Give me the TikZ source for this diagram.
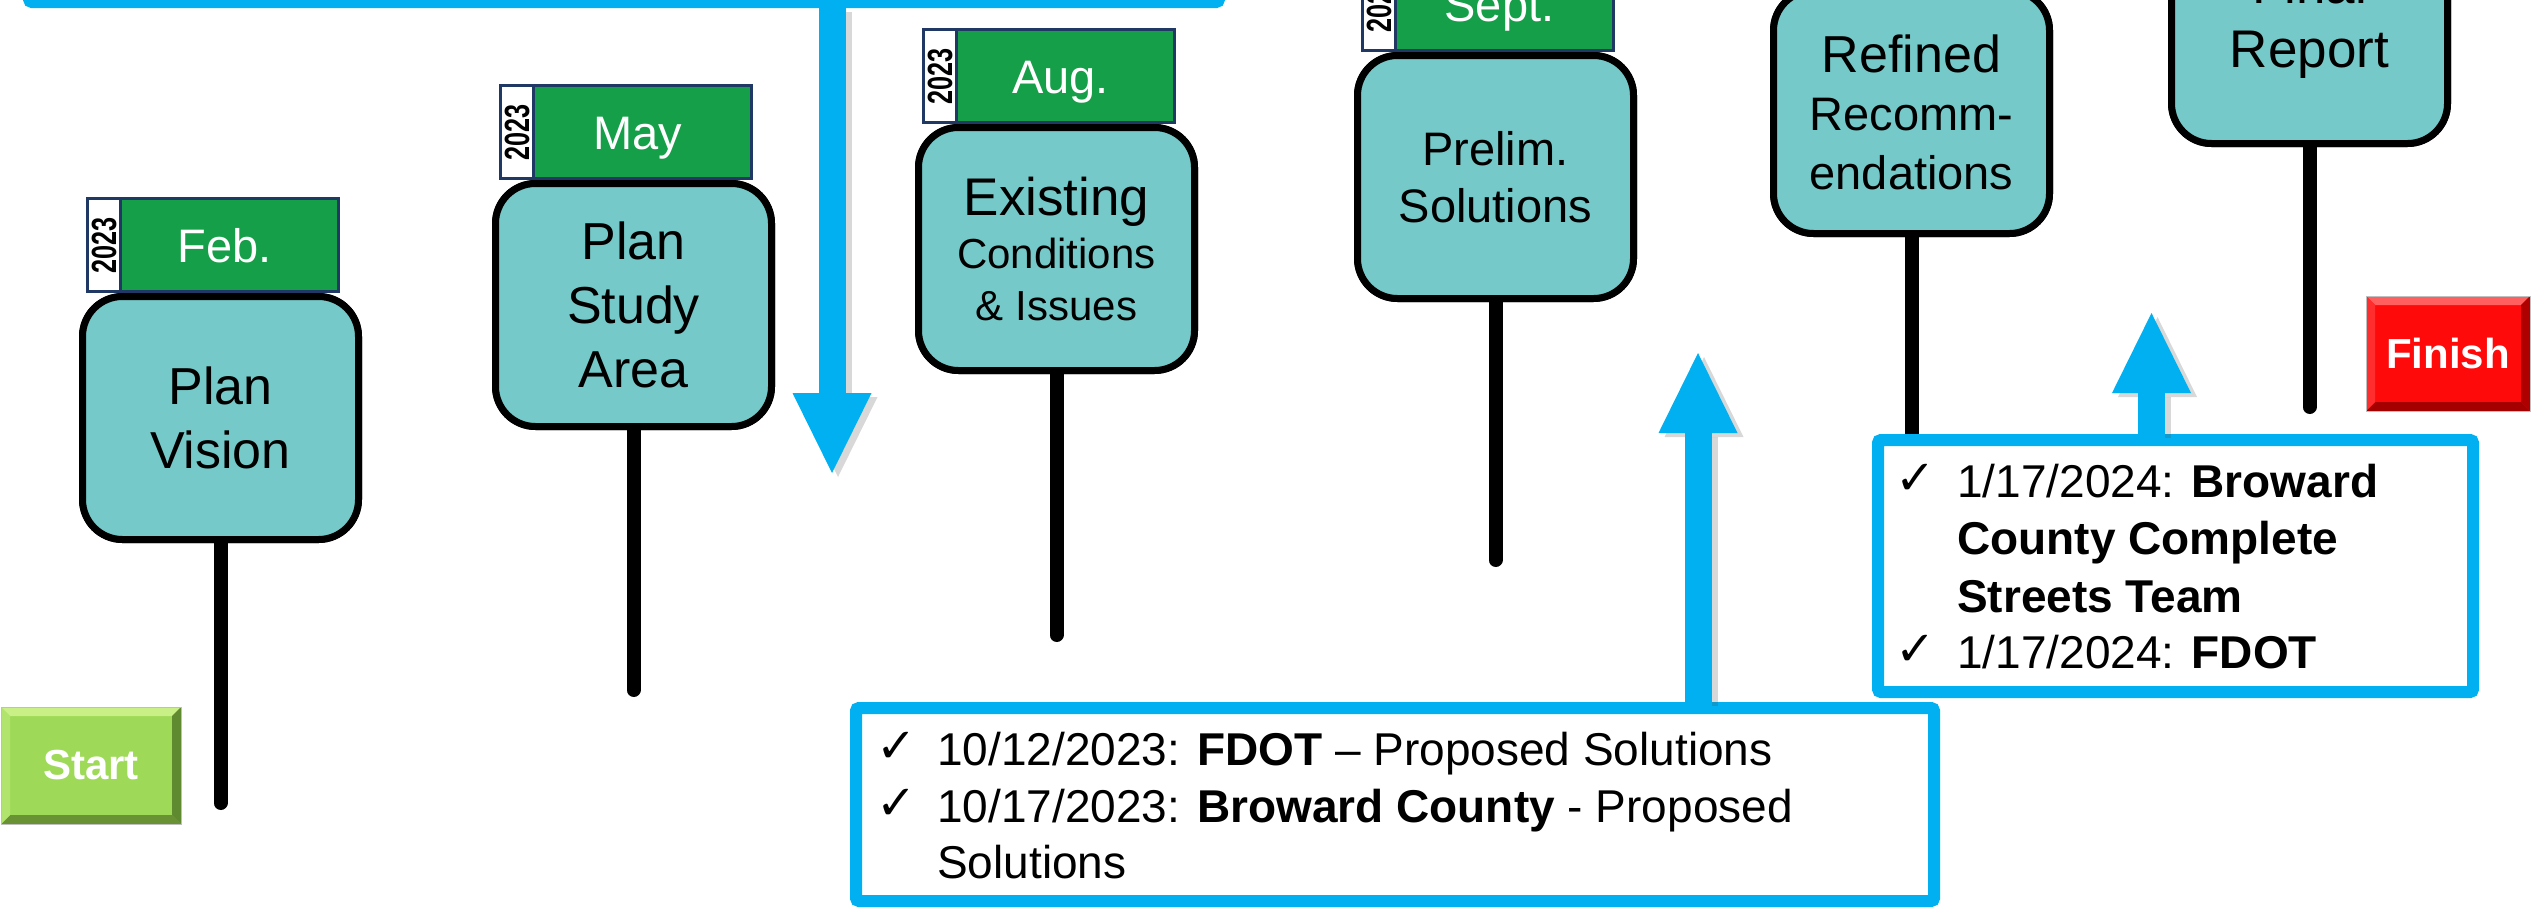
\documentclass[tikz,border=0pt]{standalone}
\usepackage{fontspec}
\setmainfont{Liberation Sans}
\newfontfamily\symbolfont{DejaVu Sans}
\usetikzlibrary{arrows.meta,calc}

\definecolor{stagefill}{RGB}{117,201,201}
\definecolor{taggreen}{RGB}{21,159,72}
\definecolor{tagedge}{RGB}{31,56,100}
\definecolor{calloutblue}{RGB}{0,176,240}
\definecolor{startface}{RGB}{158,218,88}
\definecolor{starttop}{RGB}{200,240,135}
\definecolor{startleft}{RGB}{176,228,108}
\definecolor{startright}{RGB}{96,138,48}
\definecolor{startbottom}{RGB}{104,146,52}
\definecolor{finishface}{RGB}{255,10,10}
\definecolor{finishtop}{RGB}{255,95,95}
\definecolor{finishleft}{RGB}{255,45,45}
\definecolor{finishright}{RGB}{175,0,0}
\definecolor{finishbottom}{RGB}{165,0,0}

\tikzset{
  stage/.style={draw=black, line width=7pt, fill=stagefill, rounded corners=40pt,
    minimum width=276pt, minimum height=243pt, inner sep=0pt, align=center, anchor=north west},
  stem/.style={draw=black, line width=14pt, line cap=round},
  yeartab/.style={draw=tagedge, line width=3pt, fill=white, minimum width=33pt,
    minimum height=93pt, inner sep=0pt, anchor=south west},
  monthtab/.style={draw=tagedge, line width=3pt, fill=taggreen, minimum width=218pt,
    minimum height=93pt, inner sep=0pt, anchor=south west, text=white,
    font=\fontsize{47}{47}\selectfont, text height=34pt, text depth=0pt},
  yearlabel/.style={rotate=90, inner sep=0pt, font=\bfseries\fontsize{35}{35}\selectfont},
  note/.style={draw=calloutblue, line width=12pt, fill=white, rounded corners=3pt,
    inner sep=0pt, anchor=north west},
  noteline/.style={inner sep=0pt, anchor=base west, font=\fontsize{46}{56}\selectfont},
  tick/.style={inner sep=0pt, anchor=base west, font=\symbolfont\fontsize{48}{48}\selectfont},
  bigarrow/.style={draw=calloutblue, line width=27pt,
    -{Triangle[width=79pt,length=80pt,line width=0pt]}},
  arrowshadow/.style={bigarrow, draw=black!70, opacity=0.22,
    transform canvas={shift={(6pt,-4pt)}}},
  button/.style n args={5}{fill=#1, draw=black!25, line width=1pt, inner sep=0pt,
    anchor=north west, text=white, font=\bfseries\fontsize{42}{42}\selectfont,
    path picture={
      \path (path picture bounding box.north west) coordinate (bnw)
            (path picture bounding box.south east) coordinate (bse);
      \fill[#2] (bnw) -- (bnw -| bse) -- ($(bnw -| bse)+(-9,9)$) -- ($(bnw)+(9,9)$) -- cycle;
      \fill[#5] (bse) -- (bse -| bnw) -- ($(bse -| bnw)+(9,-9)$) -- ($(bse)+(-9,-9)$) -- cycle;
      \fill[#3] (bnw) -- ($(bnw)+(9,9)$) -- ($(bse -| bnw)+(9,-9)$) -- (bse -| bnw) -- cycle;
      \fill[#4] (bnw -| bse) -- ($(bnw -| bse)+(-9,9)$) -- ($(bse)+(-9,-9)$) -- (bse) -- cycle;
    }},
}

\begin{document}
\begin{tikzpicture}[x=1pt,y=-1pt]
\useasboundingbox (0,0) rectangle (2535,908);
\clip (0,0) rectangle (2535,908);

% end points of the posts and tips of the big arrows
\coordinate (visionend) at (220.5,803);
\coordinate (studyend) at (633.5,690);
\coordinate (existend) at (1056.5,635);
\coordinate (prelimend) at (1495.5,560);
\coordinate (finalend) at (2309.5,407);
\coordinate (downtip) at (832,473);
\coordinate (uptipa) at (1698,353);
\coordinate (uptipb) at (2151.5,313);

% milestone signs
\node[stage, font=\fontsize{52}{64}\selectfont] (vision) at (79,293) {Plan\\Vision};
\node[stage, font=\fontsize{52}{64}\selectfont] (study) at (492,180) {Plan\\Study\\Area};
\node[stage, font=\fontsize{42}{52.5}\selectfont] (exist) at (915,124)
  {{\fontsize{53}{53}\selectfont Existing}\\Conditions\\\& Issues};
\node[stage, font=\fontsize{47}{57}\selectfont] (prelim) at (1354,52) {Prelim.\\Solutions};
\node[stage, font=\fontsize{47}{58.5}\selectfont] (refined) at (1770,-13)
  {{\fontsize{52}{52}\selectfont Refined}\\Recomm-\\endations};
\node[stage, font=\fontsize{53}{64}\selectfont] (final) at (2168,-103) {Final\\Report};

% callout boxes
\node[note, minimum width=1190pt, minimum height=302pt, anchor=south west] (topnote) at (23,8) {};
\node[note, minimum width=1078pt, minimum height=193pt] (octnote) at (850,702) {};

% posts
\draw[stem] (vision.south) -- (visionend);
\draw[stem] (study.south) -- (studyend);
\draw[stem] (exist.south) -- (existend);
\draw[stem] (prelim.south) -- (prelimend);
\draw[stem] (final.south) -- (finalend);
\draw[stem, line cap=butt] (refined.south) -- ($(refined.south |- 0,440)$);

\node[note, minimum width=595pt, minimum height=252pt] (jannote) at (1872,434) {};

% redraw signs above their posts
\node[stage, font=\fontsize{52}{64}\selectfont] at (79,293) {Plan\\Vision};
\node[stage, font=\fontsize{52}{64}\selectfont] at (492,180) {Plan\\Study\\Area};
\node[stage, font=\fontsize{42}{52.5}\selectfont] at (915,124)
  {{\fontsize{53}{53}\selectfont Existing}\\Conditions\\\& Issues};
\node[stage, font=\fontsize{47}{57}\selectfont] at (1354,52) {Prelim.\\Solutions};
\node[stage, font=\fontsize{47}{58.5}\selectfont] at (1770,-13)
  {{\fontsize{52}{52}\selectfont Refined}\\Recomm-\\endations};
\node[stage, font=\fontsize{53}{64}\selectfont] at (2168,-103) {Final\\Report};

% date tabs
\node[yeartab] (yfeb) at (86,293) {};
\node[monthtab] (mfeb) at ($(yfeb.south east)+(-3,0)$) {\kern-10pt Feb.};
\node[yearlabel] (lfeb) at (yfeb.center) {\scalebox{0.72}[1]{2023}};

\node[yeartab] (ymay) at (499,180) {};
\node[monthtab] (mmay) at ($(ymay.south east)+(-3,0)$) {\kern-10pt May};
\node[yearlabel] (lmay) at (ymay.center) {\scalebox{0.72}[1]{2023}};

\node[yeartab] (yaug) at (922,124) {};
\node[monthtab] (maug) at ($(yaug.south east)+(-3,0)$) {\kern-10pt Aug.};
\node[yearlabel] (laug) at (yaug.center) {\scalebox{0.72}[1]{2023}};

\node[yeartab] (ysep) at (1361,52) {};
\node[monthtab] (msep) at ($(ysep.south east)+(-3,0)$) {\kern-10pt Sept.};
\node[yearlabel] (lsep) at (ysep.center) {\scalebox{0.72}[1]{2023}};

% big blue arrows with their shadows
\draw[arrowshadow] (topnote.south -| downtip) -- (downtip);
\draw[arrowshadow] (octnote.north -| uptipa) -- (uptipa);
\draw[arrowshadow] (jannote.north -| uptipb) -- (uptipb);
\draw[bigarrow] ($(topnote.south -| downtip)+(0,-6)$) -- (downtip);
\draw[bigarrow] ($(octnote.north -| uptipa)+(0,6)$) -- (uptipa);
\draw[bigarrow] ($(jannote.north -| uptipb)+(0,6)$) -- (uptipb);

% review meetings
\node[tick] (ta) at (876,762) {✓};
\node[noteline] (oa) at (937,765) {10/12/2023: \textbf{FDOT} – Proposed Solutions};
\node[tick] (tb) at (876,819) {✓};
\node[noteline] (ob) at (937,822) {10/17/2023: \textbf{Broward County} - Proposed};
\node[noteline] (oc) at (937,878) {Solutions};

\node[tick] (tc) at (1895,494) {✓};
\node[noteline] (ja) at (1957,497) {1/17/2024: \textbf{Broward}};
\node[noteline] (jb) at (1957,554) {\textbf{County Complete}};
\node[noteline] (jc) at (1957,612) {\textbf{Streets Team}};
\node[tick] (td) at (1895,665) {✓};
\node[noteline] (jd) at (1957,668) {1/17/2024: \textbf{FDOT}};

% start and finish buttons
\node[button={startface}{starttop}{startleft}{startright}{startbottom},
      minimum width=180pt, minimum height=117pt] (start) at (0.5,706.5) {Start};
\node[button={finishface}{finishtop}{finishleft}{finishright}{finishbottom},
      minimum width=164pt, minimum height=115pt] (finish) at (2365.5,295.5) {Finish};
\end{tikzpicture}
\end{document}
